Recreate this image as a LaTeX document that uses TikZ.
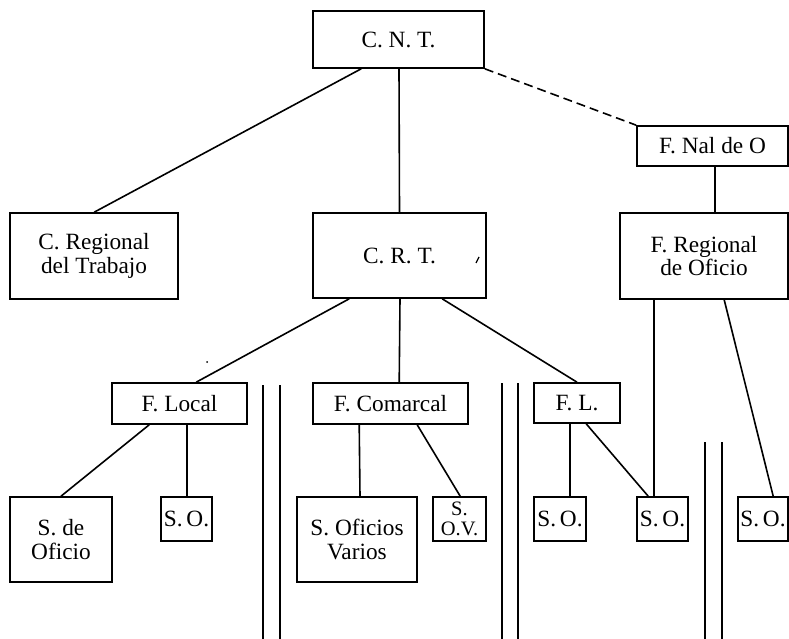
\documentclass[tikz,border=0pt]{standalone}
\usepackage{fontspec}
\setmainfont{Liberation Serif}
\begin{document}
\begin{tikzpicture}[x=1pt,y=-1pt,
  box/.style={draw,line width=1.6pt,inner sep=0pt,align=center,
    font=\fontsize{23.3}{23.5}\selectfont},
  conn/.style={line width=1.6pt},
  sep/.style={line width=1.5pt}]
\useasboundingbox (0,0) rectangle (789,639);
% nodes
\node[box,minimum width=171pt,minimum height=57pt] (cnt) at (398.5,39.5) {C. N. T.};
\node[box,minimum width=151pt,minimum height=40pt] (fnal) at (712.5,146) {F. Nal de O};
\node[box,minimum width=168pt,minimum height=86pt] (creg) at (94,256) {C. Regional\\del Trabajo};
\node[box,minimum width=173pt,minimum height=85pt] (crt) at (399.5,255.5) {C. R. T.};
\node[box,minimum width=168pt,minimum height=86pt] (fro) at (704,256) {F. Regional\\de Oficio};
\node[box,minimum width=135pt,minimum height=41pt] (flocal) at (179.5,403.5) {F. Local};
\node[box,minimum width=155pt,minimum height=41pt] (fcom) at (390.5,403.5) {F. Comarcal};
\node[box,minimum width=86pt,minimum height=40pt] (fl) at (577,403) {F. L.};
\node[box,minimum width=102pt,minimum height=85pt] (sdeo) at (61,539.5) {S. de\\Oficio};
\node[box,minimum width=51pt,minimum height=44pt] (so1) at (186.5,519) {S.\,O.};
\node[box,minimum width=120pt,minimum height=85pt] (sov) at (357,539.5) {S. Oficios\\Varios};
\node[box,minimum width=53pt,minimum height=44pt,font=\fontsize{20.5}{19.5}\selectfont] (sov2) at (459.5,519) {S.\\O.V.};
\node[box,minimum width=52pt,minimum height=44pt] (so2) at (560,519) {S.\,O.};
\node[box,minimum width=51pt,minimum height=44pt] (so3) at (662.5,519) {S.\,O.};
\node[box,minimum width=50pt,minimum height=44pt] (so4) at (763,519) {S.\,O.};
% connectors
\draw[conn] ([xshift=49pt]cnt.south west) -- ([xshift=85pt]creg.north west);
\draw[conn] ([xshift=0.5pt]cnt.south) -- (crt.north);
\draw[conn,dashed,dash pattern=on 9pt off 5pt] (cnt.south east) -- (fnal.north west);
\draw[conn] ([xshift=2.5pt]fnal.south) -- ([xshift=11pt]fro.north);
\draw[conn] ([xshift=37pt]crt.south west) -- ([xshift=85pt]flocal.north west);
\draw[conn] ([xshift=0.5pt]crt.south) -- ([xshift=87pt]fcom.north west);
\draw[conn] ([xshift=130pt]crt.south west) -- (fl.north);
\draw[conn] ([xshift=38pt]flocal.south west) -- (sdeo.north);
\draw[conn] ([xshift=76pt]flocal.south west) -- ([xshift=27pt]so1.north west);
\draw[conn] ([xshift=47pt]fcom.south west) -- ([xshift=3pt]sov.north);
\draw[conn] ([xshift=105pt]fcom.south west) -- ([xshift=28pt]sov2.north west);
\draw[conn] ([xshift=37pt]fl.south west) -- ([xshift=37pt]so2.north west);
\draw[conn] ([xshift=53pt]fl.south west) -- ([xshift=12pt]so3.north west);
\draw[conn] ([xshift=35pt]fro.south west) -- ([xshift=18pt]so3.north west);
\draw[conn] ([xshift=105pt]fro.south west) -- ([xshift=36pt]so4.north west);
% separators
\coordinate (a1) at (263,385); \coordinate (a2) at (263,639);
\coordinate (b1) at (280,385); \coordinate (b2) at (280,639);
\coordinate (c1) at (502,383); \coordinate (c2) at (502,639);
\coordinate (d1) at (518,383); \coordinate (d2) at (518,639);
\coordinate (e1) at (705,442); \coordinate (e2) at (705,639);
\coordinate (f1) at (722,442); \coordinate (f2) at (722,639);
\draw[sep] (a1) -- (a2); \draw[sep] (b1) -- (b2);
\draw[sep] (c1) -- (c2); \draw[sep] (d1) -- (d2);
\draw[sep] (e1) -- (e2); \draw[sep] (f1) -- (f2);
% stray marks of the print
\coordinate (m1) at (476,263); \coordinate (m2) at (479,257);
\draw[line width=1.3pt] (m1) -- (m2);
\fill (207,362) circle (1pt);
\end{tikzpicture}
\end{document}
